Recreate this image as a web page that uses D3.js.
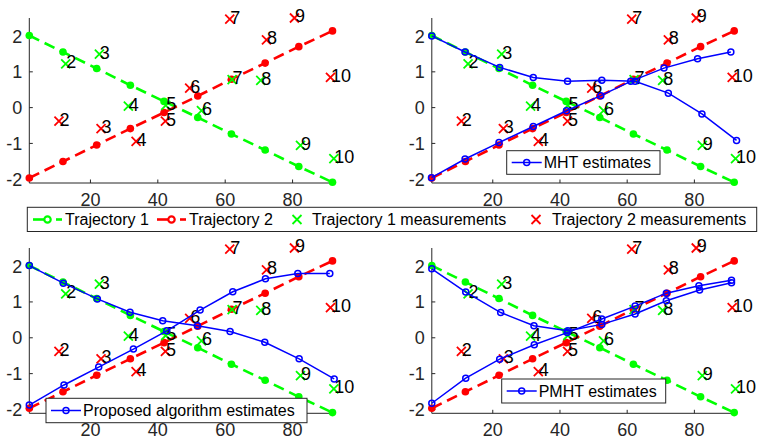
<!DOCTYPE html>
<html>
<head>
<meta charset="utf-8">
<script src="https://cdn.jsdelivr.net/npm/d3@7/dist/d3.min.js"></script>
<style>
  body { margin: 0; background: #fff; }
  svg { display: block; font-family: "Liberation Sans", Arial, sans-serif; }
</style>
</head>
<body>
<div id="chart"></div>
<script>
// Data ------------------------------------------------------------------------
const steps = [2, 12, 22, 32, 42, 52, 62, 72, 82, 92];
const traj1Y = [2.0, 1.54, 1.08, 0.61, 0.16, -0.29, -0.75, -1.2, -1.66, -2.1];
const traj2Y = [-1.98, -1.52, -1.06, -0.6, -0.15, 0.31, 0.78, 1.23, 1.69, 2.13];

const measLabels = ["2", "3", "4", "5", "6", "7", "8", "9", "10"];
const meas1X = [12.8, 22.8, 31.4, 42.5, 53.1, 62.2, 70.7, 82.5, 92.4];
const meas1Y = [1.21, 1.48, 0.03, 0.05, -0.1, 0.77, 0.75, -1.07, -1.44];
const meas2X = [10.8, 23.3, 33.7, 42.4, 49.6, 61.5, 72.4, 80.7, 91.4];
const meas2Y = [-0.39, -0.6, -0.96, -0.39, 0.53, 2.46, 1.88, 2.49, 0.83];

const mhtAX = [2, 11.9, 22.2, 32.2, 42.4, 52.6, 62.5, 72.4, 82.4, 92.7];
const mhtAY = [1.99, 1.54, 1.11, 0.83, 0.72, 0.75, 0.72, 0.39, -0.19, -0.93];
const mhtBX = [1.9, 11.9, 22.0, 32.2, 42.1, 52.3, 61.2, 71.1, 81.1, 91.0];
const mhtBY = [-1.97, -1.45, -0.99, -0.54, -0.1, 0.32, 0.72, 1.09, 1.35, 1.54];

const propAX = [2, 12.1, 22.2, 31.9, 41.6, 51.9, 61.6, 71.9, 82.1, 92.5];
const propAY = [2.0, 1.51, 1.07, 0.7, 0.46, 0.32, 0.16, -0.14, -0.6, -1.16];
const propBX = [2, 12.3, 22.6, 32.9, 42.8, 52.7, 62.4, 72.1, 81.7, 91.2];
const propBY = [-1.89, -1.33, -0.83, -0.33, 0.18, 0.76, 1.27, 1.63, 1.78, 1.78];

const pmhtAX = [2, 12.1, 22.5, 32.4, 42.5, 52.6, 62.5, 71.8, 81.7, 91.2];
const pmhtAY = [1.91, 1.26, 0.69, 0.32, 0.18, 0.36, 0.65, 1.02, 1.32, 1.52];
const pmhtBX = [2, 12.1, 22.2, 32.5, 42.3, 52.6, 62.5, 71.8, 81.5, 91.2];
const pmhtBY = [-1.84, -1.14, -0.61, -0.21, 0.13, 0.51, 0.87, 1.23, 1.44, 1.59];

const xTicks = [20, 40, 60, 80];
const yTicks = [-2, -1, 0, 1, 2];

const legendNames = ["Trajectory 1", "Trajectory 2", "Trajectory 1 measurements", "Trajectory 2 measurements"];

// Setup -----------------------------------------------------------------------
const width = 759;
const height = 439;
const green = "#00ff00";
const red = "#ff0000";
const blue = "#0000ff";
const axisColor = "#262626";

const svg = d3.select("#chart")
  .append("svg")
  .attr("width", width)
  .attr("height", height);

const zip = (xs, ys) => xs.map((x, i) => [x, ys[i]]);

const panels = [
  { l: 29.3, r: 332.5, t: 18, b: 183, est: null },
  { l: 431.8, r: 734.2, t: 18, b: 183,
    est: [zip(mhtAX, mhtAY), zip(mhtBX, mhtBY)],
    name: "MHT estimates", leg: [506.7, 150.7, 153.3, 23.6] },
  { l: 29.3, r: 332.5, t: 248, b: 413.3,
    est: [zip(propAX, propAY), zip(propBX, propBY)],
    name: "Proposed algorithm estimates", leg: [46, 398.3, 261, 24.4] },
  { l: 431.8, r: 734.2, t: 248, b: 413.3,
    est: [zip(pmhtAX, pmhtAY), zip(pmhtBX, pmhtBY)],
    name: "PMHT estimates", leg: [501.7, 379, 164, 24] }
];

function drawX(g, cx, cy, s, color) {
  g.append("path")
    .attr("d", `M${cx - s},${cy - s}L${cx + s},${cy + s}M${cx - s},${cy + s}L${cx + s},${cy - s}`)
    .attr("stroke", color)
    .attr("stroke-width", 1.8)
    .attr("fill", "none");
}

// Draw each subplot -----------------------------------------------------------
panels.forEach(p => {
  const x = d3.scaleLinear().domain([2, 92]).range([p.l, p.r]);
  const y = d3.scaleLinear().domain([-2.12, 2.49]).range([p.b, p.t]);
  const g = svg.append("g");

  // axes (box off, ticks inward)
  const xAxis = g.append("g")
    .attr("transform", `translate(0,${p.b})`)
    .call(d3.axisBottom(x).tickValues(xTicks).tickSize(-3.5).tickPadding(10));
  const yAxis = g.append("g")
    .attr("transform", `translate(${p.l},0)`)
    .call(d3.axisLeft(y).tickValues(yTicks).tickSize(-3.5).tickPadding(7)
      .tickFormat(d => String(d)));
  [xAxis, yAxis].forEach(a => {
    a.selectAll("line").attr("stroke", axisColor);
    a.selectAll("text")
      .attr("fill", axisColor)
      .style("font-size", "18px")
      .style("font-family", "'Liberation Sans', Arial, sans-serif");
  });
  xAxis.select(".domain").attr("stroke", axisColor).attr("d", `M${p.l},0H${p.r}`);
  yAxis.select(".domain").attr("stroke", axisColor).attr("d", `M0,${p.t}V${p.b}`);
  yAxis.selectAll(".tick text").attr("dy", "0.36em");

  const line = d3.line().x(d => x(d[0])).y(d => y(d[1]));

  // true trajectories
  [[traj1Y, green], [traj2Y, red]].forEach(([ys, color]) => {
    const pts = zip(steps, ys);
    g.append("path")
      .attr("d", line(pts))
      .attr("fill", "none")
      .attr("stroke", color)
      .attr("stroke-width", 2.6)
      .attr("stroke-dasharray", "11,6");
    g.selectAll(null)
      .data(pts)
      .enter()
      .append("circle")
      .attr("cx", d => x(d[0]))
      .attr("cy", d => y(d[1]))
      .attr("r", 3.8)
      .attr("fill", color);
  });

  // measurements with their step labels
  [[meas1X, meas1Y, green], [meas2X, meas2Y, red]].forEach(([xs, ys, color]) => {
    xs.forEach((mx, i) => {
      drawX(g, x(mx), y(ys[i]), 4.5, color);
      g.append("text")
        .attr("x", x(mx) + 0.5)
        .attr("y", y(ys[i]) - 2)
        .attr("dy", "0.36em")
        .attr("fill", "#000")
        .style("font-size", "18px")
        .text(measLabels[i]);
    });
  });

  if (!p.est) return;

  // estimated tracks
  p.est.forEach(pts => {
    g.append("path")
      .attr("d", line(pts))
      .attr("fill", "none")
      .attr("stroke", blue)
      .attr("stroke-width", 1.5);
    g.selectAll(null)
      .data(pts)
      .enter()
      .append("circle")
      .attr("cx", d => x(d[0]))
      .attr("cy", d => y(d[1]))
      .attr("r", 3)
      .attr("fill", "none")
      .attr("stroke", blue)
      .attr("stroke-width", 1.5);
  });

  // per-subplot legend
  const [lx, ly, lw, lh] = p.leg;
  const lg = svg.append("g");
  lg.append("rect")
    .attr("x", lx).attr("y", ly)
    .attr("width", lw).attr("height", lh)
    .attr("fill", "#fff")
    .attr("stroke", axisColor)
    .attr("stroke-width", 1);
  lg.append("line")
    .attr("x1", lx + 5).attr("x2", lx + 35)
    .attr("y1", ly + lh / 2).attr("y2", ly + lh / 2)
    .attr("stroke", blue).attr("stroke-width", 1.5);
  lg.append("circle")
    .attr("cx", lx + 20).attr("cy", ly + lh / 2).attr("r", 3)
    .attr("fill", "none").attr("stroke", blue).attr("stroke-width", 1.5);
  lg.append("text")
    .attr("x", lx + 37).attr("y", ly + lh / 2)
    .attr("dy", "0.36em")
    .style("font-size", "16px")
    .text(p.name);
});

// Shared legend ---------------------------------------------------------------
const leg = svg.append("g");
const legY = 219.5;
leg.append("rect")
  .attr("x", 27.3).attr("y", 207.3)
  .attr("width", 729.4).attr("height", 24.2)
  .attr("fill", "#fff")
  .attr("stroke", axisColor)
  .attr("stroke-width", 1);

[[33, green], [157, red]].forEach(([sx, color]) => {
  leg.append("line")
    .attr("x1", sx).attr("x2", sx + 14)
    .attr("y1", legY).attr("y2", legY)
    .attr("stroke", color).attr("stroke-width", 2.6);
  leg.append("line")
    .attr("x1", sx + 23).attr("x2", sx + 29)
    .attr("y1", legY).attr("y2", legY)
    .attr("stroke", color).attr("stroke-width", 2.6);
  leg.append("circle")
    .attr("cx", sx + 14.5).attr("cy", legY).attr("r", 3.2)
    .attr("fill", "#fff").attr("stroke", color).attr("stroke-width", 2.2);
});
drawX(leg, 297, legY, 4.5, green);
drawX(leg, 536, legY, 4.5, red);

[65, 189, 312, 552].forEach((tx, i) => {
  leg.append("text")
    .attr("x", tx).attr("y", legY)
    .attr("dy", "0.36em")
    .style("font-size", "16px")
    .attr("fill", "#000")
    .text(legendNames[i]);
});
</script>
</body>
</html>
